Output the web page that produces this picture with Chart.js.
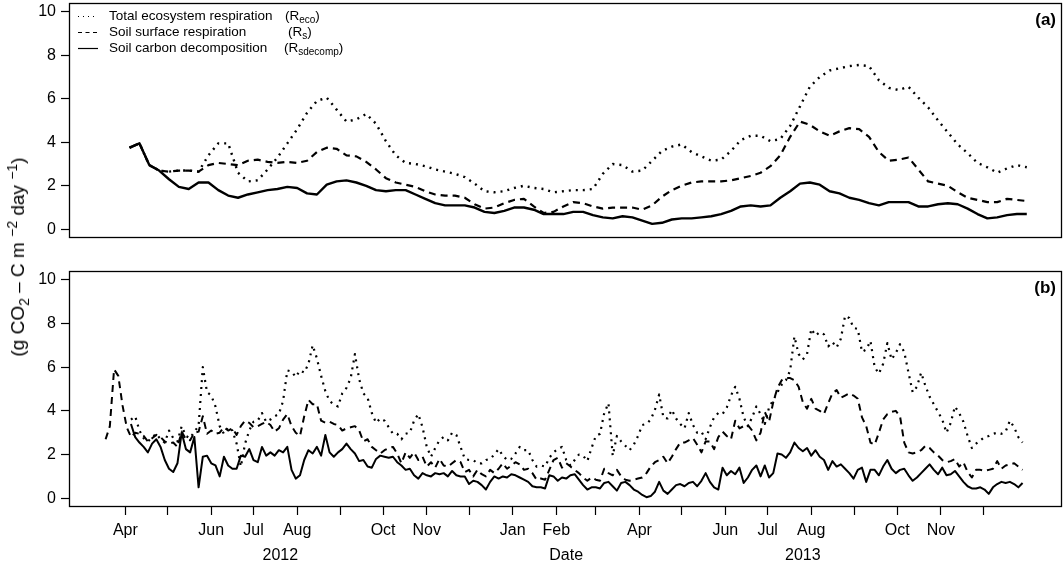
<!DOCTYPE html>
<html>
<head>
<meta charset="utf-8">
<script src="https://cdn.jsdelivr.net/npm/chart.js@4.4.1/dist/chart.umd.min.js"></script>
<style>
html,body{margin:0;padding:0;background:#fff;}
#wrap{position:relative;width:1064px;height:566px;overflow:hidden;background:#fff;}
#ca{position:absolute;left:0;top:0;}
#cb{position:absolute;left:0;top:250px;}
#ytitle{position:absolute;left:18px;top:257px;transform:translate(-50%,-50%) rotate(-90deg);white-space:nowrap;
  font-family:"Liberation Sans",Arial,sans-serif;font-size:19px;color:#000;}
#ytitle sub,#ytitle sup{font-size:14px;line-height:0;}
</style>
</head>
<body>
<div id="wrap">
  <canvas id="ca" width="1064" height="250"></canvas>
  <canvas id="cb" width="1064" height="316"></canvas>
  <div id="ytitle">(g CO<sub>2</sub> – C m <sup>−2</sup> day <sup>−1</sup>)</div>
</div>
<script>
// ---------- axis / label data ----------
const monthTicks  = [91,121,152,182,213,244,274,305,335,366,397,425,456,486,517,547,578,609,639,670,700]; // days since 2012-01-01
const monthLabels = ['Apr','','Jun','Jul','Aug','','Oct','Nov','','Jan','Feb','','Apr','','Jun','Jul','Aug','','Oct','Nov',''];
const yearLabels  = ['2012','Date','2013'];
const yearPos     = [201,404,572];
const yTicks      = [0,2,4,6,8,10];
const seriesNames = ['Total ecosystem respiration','Soil surface respiration','Soil carbon decomposition'];
const seriesSubs  = ['eco','s','sdecomp'];

// ---------- panel (a): smoothed, every 7 days from day 94 ----------
const startA = 94, stepA = 7;
const recoA = [3.75,3.95,2.95,2.7,2.65,2.7,2.7,2.65,3.4,3.95, 3.95,2.6,2.2,2.25,2.75,3.3,3.95,4.6,5.35,5.9,
 6.05,5.5,4.95,5.05,5.3,4.85,4.05,3.4,3.05,3.0, 2.9,2.75,2.65,2.55,2.4,2.1,1.75,1.7,1.75,1.9,
 2.0,1.9,1.85,1.7,1.75,1.8,1.8,1.85,2.55,3.0, 2.95,2.65,2.7,3.15,3.6,3.8,3.9,3.55,3.35,3.15,
 3.2,3.6,4.1,4.3,4.3,4.05,4.15,4.75,5.65,6.55, 7.0,7.3,7.4,7.5,7.55,7.5,6.85,6.5,6.4,6.55,
 6.05,5.6,5.0,4.45,3.9,3.5,3.05,2.85,2.6,2.8, 2.95,2.85];
const rsA = [3.75,3.95,2.95,2.7,2.65,2.7,2.7,2.65,2.95,3.05, 3.0,2.95,3.15,3.2,3.1,3.05,3.1,3.05,3.15,3.55,
 3.75,3.7,3.4,3.35,3.1,2.75,2.35,2.15,2.05,1.95, 1.75,1.6,1.55,1.55,1.45,1.15,0.95,1.0,1.2,1.35,
 1.4,1.05,0.75,0.8,1.05,1.25,1.2,1.05,0.95,1.0, 1.0,1.0,0.9,1.1,1.5,1.8,2.0,2.15,2.2,2.2,
 2.2,2.25,2.35,2.45,2.6,2.9,3.4,4.25,4.95,4.8, 4.5,4.3,4.5,4.65,4.6,4.25,3.55,3.15,3.2,3.3,
 2.75,2.2,2.1,2.0,1.7,1.45,1.35,1.25,1.25,1.4, 1.35,1.3];
const sdA = [3.75,3.95,2.95,2.7,2.3,1.95,1.85,2.15,2.15,1.8, 1.55,1.45,1.6,1.7,1.8,1.85,1.95,1.9,1.65,1.6,
 2.05,2.2,2.25,2.15,2.0,1.8,1.75,1.8,1.8,1.6, 1.4,1.2,1.1,1.1,1.1,1.0,0.8,0.75,0.85,1.0,
 1.0,0.9,0.7,0.7,0.7,0.8,0.8,0.65,0.55,0.5, 0.6,0.55,0.4,0.25,0.3,0.45,0.5,0.5,0.55,0.6,
 0.7,0.85,1.05,1.1,1.05,1.1,1.45,1.75,2.1,2.15, 2.05,1.75,1.65,1.45,1.35,1.2,1.1,1.25,1.25,1.25,
 1.05,1.05,1.15,1.2,1.15,0.95,0.7,0.5,0.55,0.65, 0.7,0.7];

// ---------- panel (b): daily values, every 3 days from day 77 ----------
const startB = 77, stepB = 3;
const recoB = [null,null,null,null,null,null,
 3.6,3.75,3.1,2.75,2.6,2.8,2.95,2.7,2.55,3.1,2.75,2.6,3.3,2.85,2.75,3.05,3.3,
 6.0,4.85,4.7,4.2,3.3,2.95,3.25,3.1,2.5,1.45,
 2.5,3.1,3.5,3.55,3.9,3.5,3.6,3.75,3.85,4.45,
 5.85,5.8,5.55,5.85,5.75,6.15,7.0,6.4,5.6,4.9,
 4.45,4.3,4.2,4.8,5.05,5.5,6.6,5.45,4.8,4.6,
 3.9,3.45,3.65,3.55,3.25,2.95,2.95,2.7,2.95,3.0,
 3.55,3.85,3.25,2.35,1.9,2.3,2.65,2.8,2.65,3.0,
 2.9,2.35,1.8,1.75,1.75,1.6,1.6,1.75,1.8,2.0,
 2.25,1.95,1.75,1.8,2.05,2.35,2.2,2.2,1.75,1.45,
 1.5,1.45,1.85,2.1,2.25,
 2.35,1.75,1.5,1.75,2.0,1.95,1.7,2.3,2.85,2.95,
 3.9,4.35,1.95,2.85,2.6,2.4,2.2,2.45,2.85,3.35,
 3.4,3.6,4.05,4.75,3.7,3.65,4.05,3.65,3.4,3.2,
 3.9,3.35,3.0,3.05,2.7,3.25,3.7,3.9,3.85,4.15,
 4.7,5.1,4.55,3.7,3.3,3.7,4.2,3.85,3.4,4.15,
 4.5,4.85,5.2,5.4,5.85,7.4,6.6,6.35,6.6,7.75,
 7.45,7.6,7.5,6.95,7.15,6.9,7.3,8.35,8.25,7.8,
 7.75,6.7,6.8,7.2,6.0,5.7,6.15,7.1,6.35,6.65,
 7.05,6.7,5.75,4.85,5.1,5.75,5.15,4.65,4.3,3.95,
 3.6,3.0,3.45,4.2,3.9,3.5,2.85,2.3,2.5,2.65,
 2.8,2.85,2.95,3.0,2.95,3.05,3.55,3.25,2.8,2.55];
const rsB = [2.7,3.3,5.9,5.6,4.25,3.25,2.8,3.0,
 2.95,2.85,2.6,2.75,2.9,2.8,2.6,2.5,2.55,2.35,3.05,2.7,2.65,3.0,3.05,
 3.75,2.95,3.1,2.95,3.0,3.25,3.1,3.2,2.9,3.3,
 3.55,3.45,3.25,3.3,3.4,3.5,3.35,3.05,3.2,3.6,
 3.85,3.3,3.0,2.85,3.75,4.5,4.3,4.3,3.55,3.45,
 3.5,3.4,3.35,3.1,3.2,3.25,3.3,3.1,2.6,2.7,
 2.35,2.2,2.05,2.2,2.3,2.35,2.05,1.6,2.1,1.85,
 2.1,1.75,1.9,1.45,1.65,1.4,1.8,1.5,1.45,1.6,
 1.75,1.65,1.2,1.3,1.0,1.3,1.1,1.0,1.3,1.15,
 1.35,1.6,1.35,1.5,1.65,1.55,1.3,1.35,1.15,0.85,
 0.9,0.85,1.3,1.75,1.85,
 1.4,1.6,1.45,1.3,1.15,0.95,0.8,0.95,0.85,0.8,
 1.35,1.15,1.05,1.3,1.0,0.85,0.8,0.85,0.9,0.95,
 1.15,1.45,1.65,1.75,1.9,1.6,1.9,2.25,2.55,2.55,
 2.65,2.75,2.45,2.1,2.6,2.6,2.25,2.8,3.05,2.85,
 2.7,3.55,3.2,3.3,3.35,3.1,2.65,3.0,3.95,3.5,
 4.4,5.05,5.4,5.5,5.5,5.4,5.1,4.4,4.1,4.55,
 4.1,4.0,3.85,4.35,4.8,4.95,4.6,4.7,4.8,4.7,
 4.55,3.7,3.3,2.55,2.45,3.0,3.6,3.85,3.95,4.0,
 3.75,2.55,2.1,2.05,2.1,2.2,2.4,2.3,2.1,1.95,
 1.75,1.65,1.7,1.8,1.45,1.65,1.2,0.95,1.3,1.3,
 1.25,1.3,1.35,1.7,1.35,1.5,1.55,1.6,1.45,1.3];
const sdB = [null,null,null,null,null,null,
 3.4,2.8,2.55,2.35,2.1,2.5,2.7,2.35,1.75,1.35,
 1.2,1.6,3.0,2.25,2.1,2.8,0.5,1.9,1.95,1.6,
 1.5,1.0,1.9,1.5,1.35,1.35,1.95,1.9,2.25,1.75,
 1.65,2.35,1.95,2.1,1.95,2.2,2.1,2.35,1.3,0.9,
 1.05,1.75,2.2,2.05,2.35,1.95,2.9,2.1,1.9,2.1,
 2.25,2.5,2.25,2.05,1.7,1.75,1.45,1.4,1.8,1.95,
 1.9,1.85,1.9,1.65,1.5,1.3,1.35,1.05,0.9,1.15,
 1.05,1.0,1.15,1.1,1.15,1.0,1.25,1.05,1.0,1.0,
 0.65,0.8,0.75,0.6,0.4,0.75,1.0,0.9,1.0,0.95,
 1.1,1.05,0.95,0.85,0.75,0.55,0.5,0.5,0.45,1.05,
 1.0,0.8,
 0.95,0.9,1.05,1.1,0.85,0.6,0.4,0.5,0.5,0.45,
 0.7,0.75,0.55,0.35,0.7,0.75,0.6,0.4,0.3,0.15,
 0.05,0.1,0.3,0.75,0.35,0.2,0.4,0.6,0.65,0.55,
 0.7,0.75,0.55,0.8,1.15,0.75,0.5,0.4,1.4,1.05,
 1.25,1.1,1.4,0.7,0.95,1.3,1.5,1.0,1.5,0.95,
 1.15,2.05,2.0,1.85,2.1,2.55,2.3,2.15,2.3,1.95,
 2.2,1.9,1.75,1.3,1.7,1.45,1.55,1.35,1.15,0.9,
 1.3,1.4,0.75,1.3,1.3,1.05,1.45,1.75,1.35,1.15,
 1.3,1.35,1.05,0.8,0.95,1.15,1.35,1.55,1.3,1.1,
 1.4,1.05,1.1,1.25,1.0,0.75,0.55,0.45,0.45,0.5,
 0.4,0.2,0.5,0.65,0.75,0.7,0.75,0.65,0.5,0.7];

// ---------- helpers ----------
const FONT = '"Liberation Sans", Arial, sans-serif';
const toXY = (arr, start, step) => arr.map((v, i) => ({x: start + i * step, y: v}));
const X_MIN = 51, X_MAX = 756;

function ds(data, kind, width) {
  const dash = kind === 'dot' ? [2, 5] : kind === 'dash' ? [7, 5] : [];
  return {data, borderColor: '#000', borderWidth: width, borderDash: dash, pointRadius: 0,
          tension: 0, fill: false, spanGaps: false, borderCapStyle: 'butt', borderJoinStyle: 'round'};
}

function drawSub(ctx, x, y, main, sub, tail, size) {
  ctx.font = size + 'px ' + FONT;
  ctx.fillText(main, x, y);
  let w = ctx.measureText(main).width;
  ctx.font = Math.round(size * 0.72) + 'px ' + FONT;
  ctx.fillText(sub, x + w, y + 4);
  w += ctx.measureText(sub).width;
  ctx.font = size + 'px ' + FONT;
  ctx.fillText(tail, x + w, y);
}

const framePlugin = {
  id: 'frame',
  afterDraw(chart, args, opts) {
    const {ctx, chartArea: a} = chart;
    ctx.save();
    ctx.strokeStyle = '#000';
    ctx.lineWidth = 1.3;
    ctx.setLineDash([]);
    ctx.strokeRect(Math.round(a.left) + 0.5, Math.round(a.top) + 0.5,
                   Math.round(a.right - a.left) - 1, Math.round(a.bottom - a.top) - 1);
    ctx.fillStyle = '#000';
    ctx.font = 'bold 17px ' + FONT;
    ctx.textAlign = 'right';
    ctx.textBaseline = 'middle';
    ctx.fillText(opts.tag, a.right - 6, a.top + 17);
    if (opts.legend) {
      const rows = [a.top + 13.5, a.top + 29.5, a.top + 45.5];
      const kinds = [[1, 4], [4, 3.5], []];
      const subX = [285, 288, 284];
      ctx.textAlign = 'left';
      ctx.textBaseline = 'middle';
      rows.forEach((yy, i) => {
        ctx.beginPath();
        ctx.setLineDash(kinds[i]);
        ctx.lineWidth = 1.2;
        ctx.moveTo(78, yy); ctx.lineTo(98, yy);
        ctx.stroke();
        ctx.setLineDash([]);
        ctx.font = '13.5px ' + FONT;
        ctx.fillText(seriesNames[i], 109, yy);
        drawSub(ctx, subX[i], yy, '(R', seriesSubs[i], ')', 13.5);
      });
    }
    if (opts.years) {
      const xs = chart.scales.x;
      ctx.font = '16px ' + FONT;
      ctx.textAlign = 'center';
      ctx.textBaseline = 'middle';
      yearLabels.forEach((t, i) => ctx.fillText(t, xs.getPixelForValue(yearPos[i]), a.bottom + 49));
    }
    ctx.restore();
  }
};

function makeY() {
  return {
    min: -0.4, max: 10.4,
    afterFit(s) { s.width = 69; s.paddingTop = 0; s.paddingBottom = 0; },
    afterBuildTicks(s) { s.ticks = yTicks.map(v => ({value: v})); },
    grid: {drawOnChartArea: false, drawTicks: true, tickLength: 8, tickColor: '#000', tickWidth: 1.2},
    border: {display: false},
    ticks: {color: '#000', font: {size: 16, family: FONT}, padding: 5}
  };
}

new Chart(document.getElementById('ca'), {
  type: 'line',
  data: {datasets: [
    ds(toXY(recoA, startA, stepA), 'dot', 2.4),
    ds(toXY(rsA, startA, stepA), 'dash', 2.2),
    ds(toXY(sdA, startA, stepA), 'solid', 2.4)
  ]},
  options: {
    responsive: false, animation: false, devicePixelRatio: 1,
    layout: {padding: {top: 3, right: 2, bottom: 12, left: 0}},
    plugins: {legend: {display: false}, tooltip: {enabled: false}, frame: {tag: '(a)', legend: true}},
    scales: {
      x: {type: 'linear', min: X_MIN, max: X_MAX, display: false},
      y: makeY()
    }
  },
  plugins: [framePlugin]
});

new Chart(document.getElementById('cb'), {
  type: 'line',
  data: {datasets: [
    ds(toXY(recoB, startB, stepB), 'dot', 2.2),
    ds(toXY(rsB, startB, stepB), 'dash', 2),
    ds(toXY(sdB, startB, stepB), 'solid', 2)
  ]},
  options: {
    responsive: false, animation: false, devicePixelRatio: 1,
    layout: {padding: {top: 21, right: 2, bottom: 0, left: 0}},
    plugins: {legend: {display: false}, tooltip: {enabled: false}, frame: {tag: '(b)', years: true}},
    scales: {
      x: {
        type: 'linear', min: X_MIN, max: X_MAX,
        afterFit(s) { s.height = 59; s.paddingLeft = 0; s.paddingRight = 0; },
        afterBuildTicks(s) { s.ticks = monthTicks.map(v => ({value: v})); },
        grid: {drawOnChartArea: false, drawTicks: true, tickLength: 8, tickColor: '#000', tickWidth: 1.2},
        border: {display: false},
        ticks: {autoSkip: false, maxRotation: 0, color: '#000', font: {size: 16, family: FONT}, padding: 6,
                callback: (v, i) => monthLabels[i]}
      },
      y: makeY()
    }
  },
  plugins: [framePlugin]
});
</script>
</body>
</html>
